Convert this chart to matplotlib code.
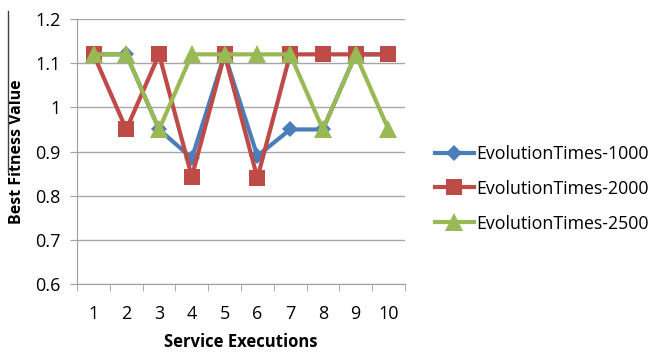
import matplotlib.pyplot as plt
from matplotlib.lines import Line2D

executions = [1, 2, 3, 4, 5, 6, 7, 8, 9, 10]
times_1000 = [1.12, 1.12, 0.95, 0.885, 1.12, 0.89, 0.95, 0.95, 1.12, 1.12]
times_2000 = [1.12, 0.95, 1.12, 0.843, 1.12, 0.84, 1.12, 1.12, 1.12, 1.12]
times_2500 = [1.12, 1.12, 0.95, 1.12, 1.12, 1.12, 1.12, 0.95, 1.12, 0.95]
y_ticks = [0.6, 0.7, 0.8, 0.9, 1.0, 1.1, 1.2]
y_labels = ["0.6", "0.7", "0.8", "0.9", "1", "1.1", "1.2"]

plt.rcParams['font.family'] = ['Open Sans', 'DejaVu Sans']

fig = plt.figure(figsize=(6.54, 3.52), dpi=100)
ax = fig.add_axes([0.118, 0.193, 0.501, 0.753])

series = [
    ("EvolutionTimes-1000", times_1000, "#4A7EBB", "D", 8),
    ("EvolutionTimes-2000", times_2000, "#BE4B48", "s", 11.5),
    ("EvolutionTimes-2500", times_2500, "#98B954", "^", 12.5),
]
for label, vals, color, marker, ms in series:
    ax.plot(executions, vals, color=color, lw=3, marker=marker,
            markersize=ms, markeredgewidth=0, label=label)

ax.set_xlim(0.5, 10.5)
ax.set_ylim(0.6, 1.2)
ax.set_yticks(y_ticks)
ax.set_yticklabels(y_labels)
ax.set_xticks(executions)
ax.set_xticks([i + 0.5 for i in range(0, 11)], minor=True)
ax.tick_params(axis='x', which='major', length=0, pad=15, labelsize=13)
ax.tick_params(axis='x', which='minor', length=5, color='#A0A0A0')
ax.tick_params(axis='y', length=5, color='#A0A0A0', labelsize=13, pad=7)
ax.grid(axis='y', color='#A6A6A6', lw=1)
ax.set_axisbelow(True)
for side in ['top', 'right']:
    ax.spines[side].set_visible(False)
for side in ['left', 'bottom']:
    ax.spines[side].set_color('#A0A0A0')

ax.set_xlabel("Service Executions", fontweight='bold', fontsize=12, labelpad=7)
ax.set_ylabel("Best Fitness Value", fontweight='bold', fontsize=11.5, labelpad=7)

ax.legend(loc='center left', bbox_to_anchor=(1.07, 0.36), frameon=False,
          fontsize=12.8, handlelength=2.2, handletextpad=0.15, labelspacing=0.95,
          borderaxespad=0)

# partial outer frame on the left
fig.add_artist(Line2D([0.012, 0.012], [0.51, 0.97], color='#404040', lw=1))

fig.savefig("out.png", dpi=100)
